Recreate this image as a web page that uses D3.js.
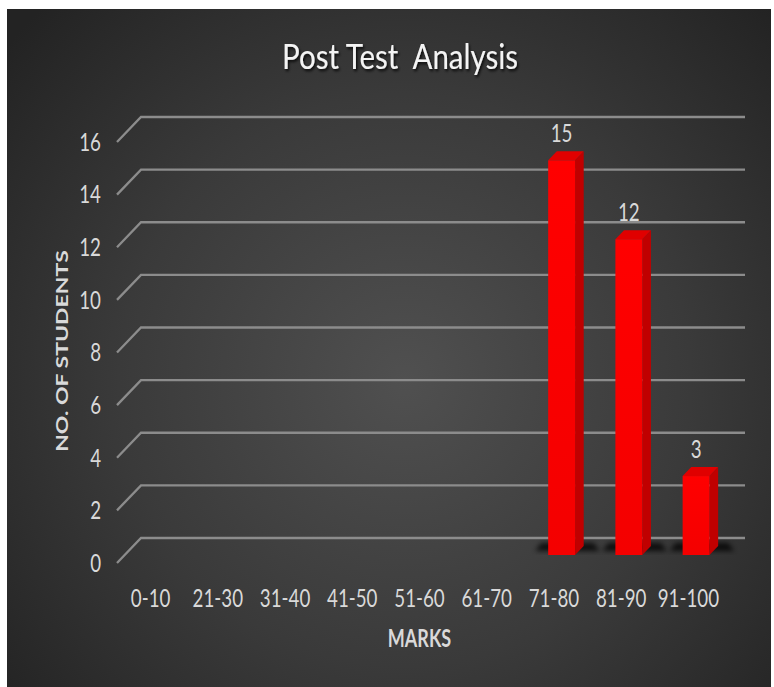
<!DOCTYPE html>
<html><head><meta charset="utf-8">
<script src="https://cdn.jsdelivr.net/npm/d3@7"></script>
<style>body{margin:0;background:#fff}</style></head><body>
<script>
const categories = ["0-10","21-30","31-40","41-50","51-60","61-70","71-80","81-90","91-100"];
const students = [0,0,0,0,0,0,15,12,3];
const yTicks = [0,2,4,6,8,10,12,14,16];
const chartTitle = "Post Test  Analysis";
const xTitle = "MARKS";
const yTitle = "NO. OF STUDENTS";

const W = 774, H = 687;
const FONT = "Lato,'Open Sans',sans-serif";
const SX = 0.75;   // narrow look of the original lettering
const svg = d3.select("body").append("svg").attr("width", W).attr("height", H);
const defs = svg.append("defs");
const bg = defs.append("radialGradient").attr("id","bg")
  .attr("gradientUnits","userSpaceOnUse").attr("cx",405).attr("cy",380).attr("r",520);
bg.append("stop").attr("offset","0").attr("stop-color","#505050");
bg.append("stop").attr("offset","0.55").attr("stop-color","#3a3a3a");
bg.append("stop").attr("offset","1").attr("stop-color","#232323");
const blur = defs.append("filter").attr("id","blur").attr("x","-50%").attr("y","-50%").attr("width","200%").attr("height","200%");
blur.append("feGaussianBlur").attr("stdDeviation",2.5);
const ts = defs.append("filter").attr("id","tshadow").attr("x","-20%").attr("y","-40%").attr("width","140%").attr("height","180%");
ts.append("feDropShadow").attr("dx",1.5).attr("dy",2).attr("stdDeviation",1.5).attr("flood-color","#000").attr("flood-opacity",0.85);
const barGrad = defs.append("linearGradient").attr("id","barGrad").attr("x1",0).attr("x2",0).attr("y1",0).attr("y2",1);
barGrad.append("stop").attr("offset","0").attr("stop-color","#ff0000");
barGrad.append("stop").attr("offset","1").attr("stop-color","#f40000");

svg.append("rect").attr("x",7).attr("y",9).attr("width",764).attr("height",678).attr("fill","url(#bg)");

function label(g, x, y, str, o) {
  return g.append("text")
    .attr("transform", `translate(${x},${y}) scale(${o.sx ?? SX},1)`)
    .attr("dy", "0.35em")
    .attr("text-anchor", o.anchor || "middle")
    .attr("font-family", FONT).attr("font-size", o.size || 25)
    .attr("font-weight", o.weight || "normal")
    .attr("fill", o.fill || "#d9d9d9")
    .attr("xml:space","preserve").style("white-space","pre")
    .text(str);
}

// back wall value scale and front band scale
const y = d3.scaleLinear().domain([0,16]).range([538,117]);
const x = d3.scaleBand().domain(categories).range([117,722]);
const DX = 24, DY = 25;          // depth offset front -> back
const wallRight = 745;
const x0 = x.range()[0];

// gridlines
const grid = svg.append("g");
yTicks.forEach(t => {
  const yb = y(t);
  grid.append("path")
    .attr("d", `M${x0},${yb+DY} L${x0+DX},${yb} L${wallRight},${yb}`)
    .attr("fill","none").attr("stroke","#8c8c8c").attr("stroke-width",2.3);
});

// tick labels
const tickG = svg.append("g");
yTicks.forEach(t => label(tickG, 101, y(t)+DY, t, {anchor:"end"}));

// bars
const t0 = 0.32, t1 = 0.68;
const bw = x.bandwidth()*0.4;
const sdx = DX*(t1-t0), sdy = -DY*(t1-t0);
const data = categories.map((c,i) => ({c, v: students[i]}));
const bars = svg.append("g");
data.filter(d => d.v > 0).forEach(d => {
  const xl = x(d.c) + (x.bandwidth()-bw)/2 + DX*t0;
  const yb = y(0) + DY - DY*t0;
  const yt = y(d.v) + DY - DY*t0;
  bars.append("path")
    .attr("d", `M${xl-13},${yb-4} L${xl+bw+sdx+16},${yb-4} L${xl+bw+sdx+10},${yb-12} L${xl-7},${yb-12}Z`)
    .attr("fill","#000").attr("opacity",0.75).attr("filter","url(#blur)");
  bars.append("path")
    .attr("d", `M${xl+bw},${yt} L${xl+bw+sdx},${yt+sdy} L${xl+bw+sdx},${yb+sdy} L${xl+bw},${yb}Z`)
    .attr("fill","#c00000");
  bars.append("path")
    .attr("d", `M${xl},${yt} L${xl+sdx},${yt+sdy} L${xl+bw+sdx},${yt+sdy} L${xl+bw},${yt}Z`)
    .attr("fill","#e00000");
  bars.append("rect").attr("x",xl).attr("y",yt).attr("width",bw).attr("height",yb-yt)
    .attr("fill","url(#barGrad)");
  label(bars, xl+bw/2, yt-27, d.v, {});
});

// category labels
const catG = svg.append("g");
categories.forEach(c => label(catG, x(c)+x.bandwidth()/2, 598, c, {}));

// axis titles
label(svg, (x.range()[0]+x.range()[1])/2, 639, xTitle, {size:24, weight:"bold"});
svg.append("text").attr("transform","translate(62,351) scale(0.78,1) rotate(-90)").attr("dy","0.35em")
  .attr("text-anchor","middle").attr("font-family",FONT).attr("font-size",23).attr("font-weight","bold")
  .attr("fill","#d9d9d9").text(yTitle);

// chart title, fitted to the original's width
const tt = label(svg, 400, 57, chartTitle, {size:35, sx:1, fill:"#f4f4f4"}).attr("filter","url(#tshadow)");
const nat = tt.node().getComputedTextLength();
tt.attr("transform", `translate(400,57) scale(${236/nat},1)`);
</script>
</body></html>
